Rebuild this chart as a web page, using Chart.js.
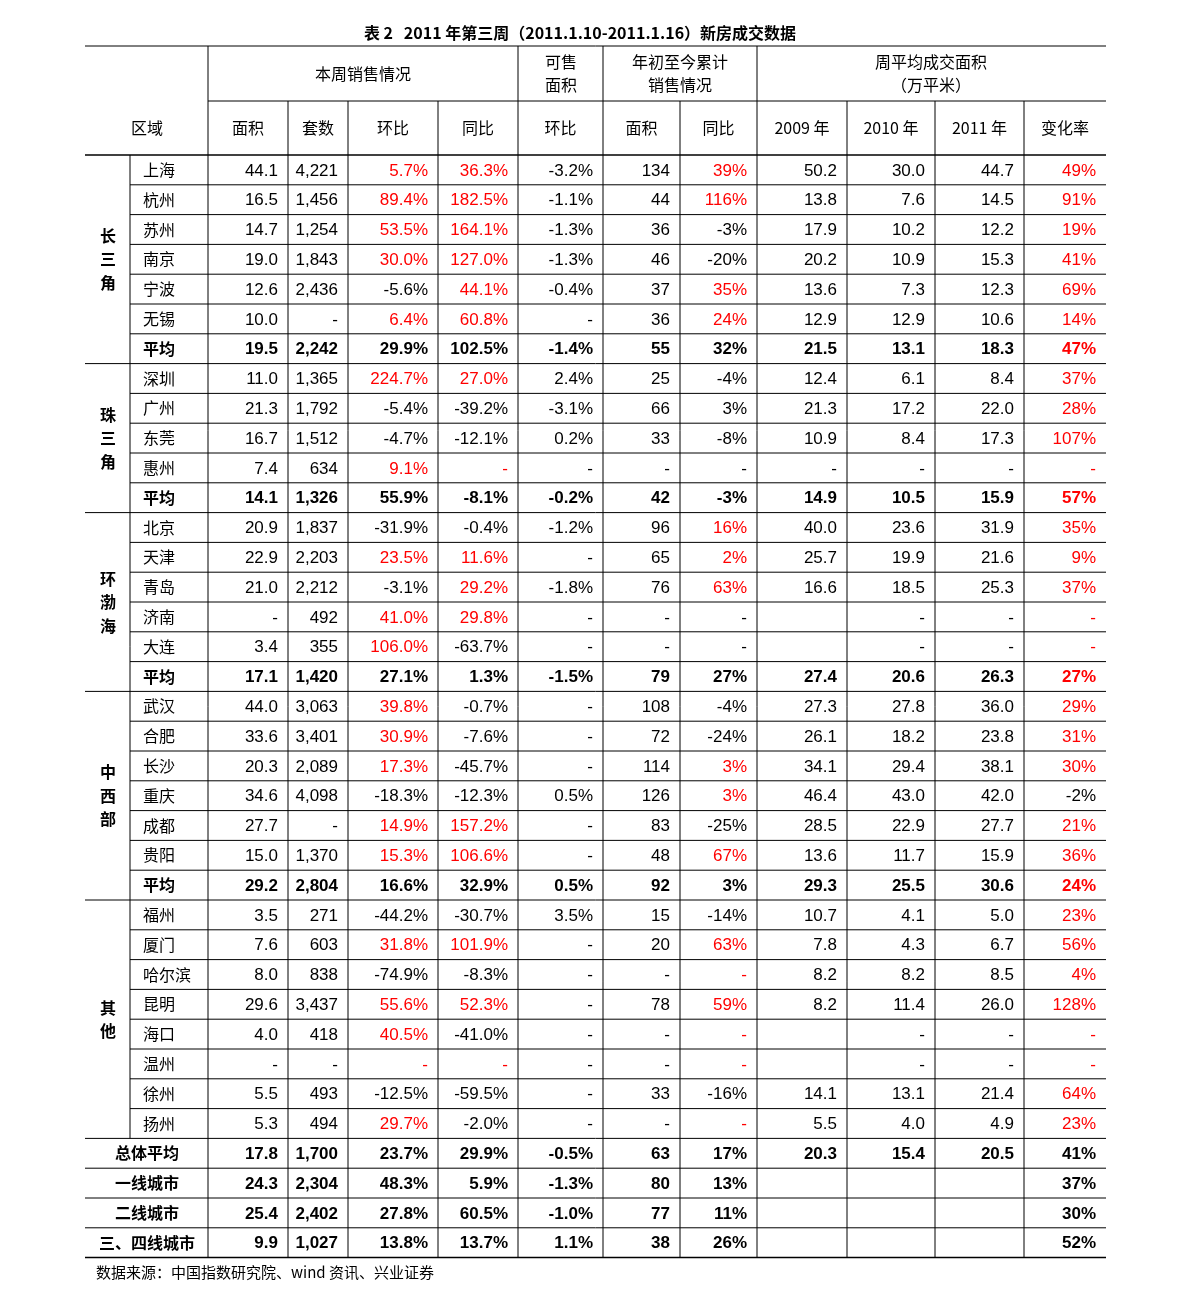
<!DOCTYPE html>
<html>
<head>
<meta charset="utf-8">
<script src="https://cdn.jsdelivr.net/npm/chart.js@4/dist/chart.umd.min.js"></script>
<style>
  body { margin: 0; background: #fff; }
  #wrap { width: 1191px; height: 1302px; }
</style>
</head>
<body>
<div id="wrap"><canvas id="tableChart" width="1191" height="1302"></canvas></div>
<script>
// 数据
const title = '表 2   2011 年第三周（2011.1.10-2011.1.16）新房成交数据';
const source = '数据来源：中国指数研究院、wind 资讯、兴业证券';
const groups = [
  { name: '长三角', from: 0, to: 6 },
  { name: '珠三角', from: 7, to: 11 },
  { name: '环渤海', from: 12, to: 17 },
  { name: '中西部', from: 18, to: 24 },
  { name: '其他', from: 25, to: 32 }
];
const cities = ['上海','杭州','苏州','南京','宁波','无锡','平均',
  '深圳','广州','东莞','惠州','平均',
  '北京','天津','青岛','济南','大连','平均',
  '武汉','合肥','长沙','重庆','成都','贵阳','平均',
  '福州','厦门','哈尔滨','昆明','海口','温州','徐州','扬州',
  '总体平均','一线城市','二线城市','三、四线城市'];
const area = ['44.1','16.5','14.7','19.0','12.6','10.0','19.5','11.0','21.3','16.7','7.4','14.1','20.9','22.9','21.0','-','3.4','17.1','44.0','33.6','20.3','34.6','27.7','15.0','29.2','3.5','7.6','8.0','29.6','4.0','-','5.5','5.3','17.8','24.3','25.4','9.9'];
const units = ['4,221','1,456','1,254','1,843','2,436','-','2,242','1,365','1,792','1,512','634','1,326','1,837','2,203','2,212','492','355','1,420','3,063','3,401','2,089','4,098','-','1,370','2,804','271','603','838','3,437','418','-','493','494','1,700','2,304','2,402','1,027'];
const wow = ['5.7%','89.4%','53.5%','30.0%','-5.6%','6.4%','29.9%','224.7%','-5.4%','-4.7%','9.1%','55.9%','-31.9%','23.5%','-3.1%','41.0%','106.0%','27.1%','39.8%','30.9%','17.3%','-18.3%','14.9%','15.3%','16.6%','-44.2%','31.8%','-74.9%','55.6%','40.5%','-','-12.5%','29.7%','23.7%','48.3%','27.8%','13.8%'];
const yoy = ['36.3%','182.5%','164.1%','127.0%','44.1%','60.8%','102.5%','27.0%','-39.2%','-12.1%','-','-8.1%','-0.4%','11.6%','29.2%','29.8%','-63.7%','1.3%','-0.7%','-7.6%','-45.7%','-12.3%','157.2%','106.6%','32.9%','-30.7%','101.9%','-8.3%','52.3%','-41.0%','-','-59.5%','-2.0%','29.9%','5.9%','60.5%','13.7%'];
const stockWow = ['-3.2%','-1.1%','-1.3%','-1.3%','-0.4%','-','-1.4%','2.4%','-3.1%','0.2%','-','-0.2%','-1.2%','-','-1.8%','-','-','-1.5%','-','-','-','0.5%','-','-','0.5%','3.5%','-','-','-','-','-','-','-','-0.5%','-1.3%','-1.0%','1.1%'];
const ytdArea = ['134','44','36','46','37','36','55','25','66','33','-','42','96','65','76','-','-','79','108','72','114','126','83','48','92','15','20','-','78','-','-','33','-','63','80','77','38'];
const ytdYoy = ['39%','116%','-3%','-20%','35%','24%','32%','-4%','3%','-8%','-','-3%','16%','2%','63%','-','-','27%','-4%','-24%','3%','3%','-25%','67%','3%','-14%','63%','-','59%','-','-','-16%','-','17%','13%','11%','26%'];
const avg2009 = ['50.2','13.8','17.9','20.2','13.6','12.9','21.5','12.4','21.3','10.9','-','14.9','40.0','25.7','16.6','','','27.4','27.3','26.1','34.1','46.4','28.5','13.6','29.3','10.7','7.8','8.2','8.2','','','14.1','5.5','20.3','','',''];
const avg2010 = ['30.0','7.6','10.2','10.9','7.3','12.9','13.1','6.1','17.2','8.4','-','10.5','23.6','19.9','18.5','-','-','20.6','27.8','18.2','29.4','43.0','22.9','11.7','25.5','4.1','4.3','8.2','11.4','-','-','13.1','4.0','15.4','','',''];
const avg2011 = ['44.7','14.5','12.2','15.3','12.3','10.6','18.3','8.4','22.0','17.3','-','15.9','31.9','21.6','25.3','-','-','26.3','36.0','23.8','38.1','42.0','27.7','15.9','30.6','5.0','6.7','8.5','26.0','-','-','21.4','4.9','20.5','','',''];
const change = ['49%','91%','19%','41%','69%','14%','47%','37%','28%','107%','-','57%','35%','9%','37%','-','-','27%','29%','31%','30%','-2%','21%','36%','24%','23%','56%','4%','128%','-','-','64%','23%','41%','37%','30%','52%'];
// 年初累计同比中显示为黑色的格（广州、惠州、济南、大连）
const blackYtd = [8, 10, 15, 16];

const columns = [area, units, wow, yoy, stockWow, ytdArea, ytdYoy, avg2009, avg2010, avg2011, change];
const redCols = [2, 3, 6, 10];
const colEdges = [208, 288, 348, 438, 518, 603, 680, 757, 847, 935, 1024, 1106];

const tablePlugin = {
  id: 'tablePlugin',
  afterDraw(chart) {
    const { ctx, scales: { x, y } } = chart;
    const X = v => x.getPixelForValue(v);
    const Y = v => y.getPixelForValue(v);
    const top = 155, rowH = 29.8;
    const rowTop = i => top + i * rowH;
    const hline = (x1, x2, yy, w) => { ctx.lineWidth = w || 1; ctx.beginPath(); ctx.moveTo(X(x1), Y(yy)); ctx.lineTo(X(x2), Y(yy)); ctx.stroke(); };
    const vline = (xx, y1, y2) => { ctx.lineWidth = 1; ctx.beginPath(); ctx.moveTo(X(xx), Y(y1)); ctx.lineTo(X(xx), Y(y2)); ctx.stroke(); };
    const cjk = '"Noto Sans CJK SC", sans-serif';
    const num = '"Liberation Sans", Arial, sans-serif';
    ctx.save();
    ctx.strokeStyle = '#000';
    ctx.fillStyle = '#000';
    ctx.textBaseline = 'middle';

    // 标题
    ctx.textAlign = 'center';
    ctx.font = 'bold 16px ' + cjk;
    ctx.fillText(title, X(580), Y(33));

    // 表头线
    const n = cities.length;
    const bottom = rowTop(n);
    hline(85, 1106, 46);
    hline(208, 1106, 101);
    hline(85, 1106, 155, 1.5);
    hline(85, 1106, bottom, 1.5);
    [208, 518, 603, 757].forEach(c => vline(c, 46, 155));
    [288, 348, 438, 680, 847, 935, 1024].forEach(c => vline(c, 101, 155));
    colEdges.slice(0, -1).forEach(c => vline(c, 155, bottom));
    vline(130, 155, rowTop(33));

    // 表头文字
    ctx.font = '16px ' + cjk;
    ctx.fillText('本周销售情况', X(363), Y(74));
    ctx.fillText('可售', X(561), Y(62)); ctx.fillText('面积', X(561), Y(85));
    ctx.fillText('年初至今累计', X(680), Y(62)); ctx.fillText('销售情况', X(680), Y(85));
    ctx.fillText('周平均成交面积', X(931), Y(62)); ctx.fillText('（万平米）', X(931), Y(85));
    const heads = ['面积','套数','环比','同比','环比','面积','同比','2009 年','2010 年','2011 年','变化率'];
    ctx.fillText('区域', X(147), Y(128));
    heads.forEach((h, i) => ctx.fillText(h, X((colEdges[i] + colEdges[i + 1]) / 2), Y(128)));

    // 行线
    const groupStarts = groups.map(g => g.from).concat([33, 34, 35, 36]);
    for (let i = 1; i < n; i++) {
      hline(groupStarts.includes(i) ? 85 : 130, 1106, rowTop(i));
    }

    // 区域名（竖排）
    groups.forEach(g => {
      const mid = (rowTop(g.from) + rowTop(g.to + 1)) / 2;
      const chars = g.name.split('');
      chars.forEach((c, k) => {
        ctx.font = 'bold 16px ' + cjk;
        ctx.fillText(c, X(108), Y(mid + (k - (chars.length - 1) / 2) * 23.5));
      });
    });

    // 行数据
    for (let i = 0; i < n; i++) {
      const cy = rowTop(i) + rowH / 2;
      const isAvg = cities[i] === '平均';
      const isTotal = i >= 33;
      const bold = isAvg || isTotal;
      if (isTotal) {
        ctx.textAlign = 'center';
        ctx.font = 'bold 16px ' + cjk;
        ctx.fillStyle = '#000';
        ctx.fillText(cities[i], X(147), Y(cy));
      } else {
        ctx.textAlign = 'left';
        ctx.font = (bold ? 'bold ' : '') + '16px ' + cjk;
        ctx.fillStyle = '#000';
        ctx.fillText(cities[i], X(143), Y(cy));
      }
      ctx.textAlign = 'right';
      ctx.font = (bold ? 'bold ' : '') + '17px ' + num;
      columns.forEach((col, c) => {
        const v = col[i];
        if (!v) return;
        let red = false;
        if (!isTotal && redCols.includes(c)) {
          red = v === '-' || v[0] !== '-';
          if (c === 6 && blackYtd.includes(i)) red = false;
          if (isAvg && c !== 10) red = false;
        }
        ctx.fillStyle = red ? '#ff0000' : '#000';
        ctx.fillText(v, X(colEdges[c + 1] - 10), Y(cy + 1));
      });
    }

    // 来源
    ctx.textAlign = 'left';
    ctx.fillStyle = '#000';
    ctx.font = '15px ' + cjk;
    ctx.fillText(source, X(96), Y(1272));
    ctx.restore();
  }
};

new Chart(document.getElementById('tableChart'), {
  type: 'scatter',
  data: { datasets: [{ data: [], pointRadius: 0 }] },
  options: {
    responsive: false,
    animation: false,
    layout: { padding: 0 },
    plugins: { legend: { display: false }, tooltip: { enabled: false } },
    scales: {
      x: { type: 'linear', min: 0, max: 1191, display: false },
      y: { type: 'linear', min: 0, max: 1302, reverse: true, display: false }
    }
  },
  plugins: [tablePlugin]
});
</script>
</body>
</html>
